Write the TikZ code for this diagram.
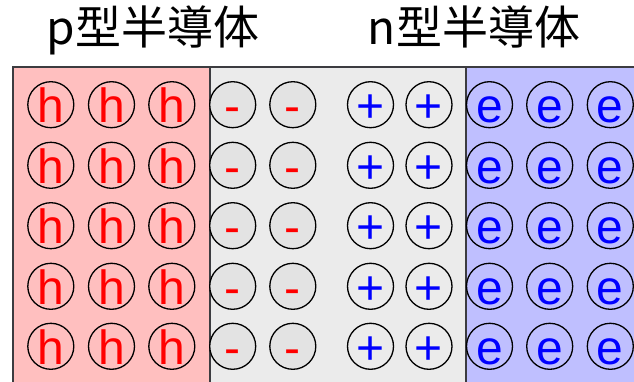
\documentclass[tikz,border=0pt]{standalone}
\usepackage{fontspec}
\setmainfont{Liberation Sans}
\newfontfamily\cjkfont{Noto Sans CJK JP}
\definecolor{pinkfill}{RGB}{255,191,191}
\definecolor{grayfill}{RGB}{235,235,235}
\definecolor{bluefill}{RGB}{191,191,255}
\definecolor{ionfill}{RGB}{227,227,227}
\definecolor{edgecol}{RGB}{60,60,64}
\begin{document}
\begin{tikzpicture}[x=1pt,y=-1pt,
  region/.style={draw=edgecol,line width=2pt},
  carrier/.style={circle,draw=black,line width=1.3pt,minimum size=46pt,inner sep=0pt,
    text height=36pt,text depth=0pt,font=\fontsize{48}{48}\selectfont},
  hole/.style={carrier,text=red},
  acceptor/.style={carrier,text=red,fill=ionfill},
  donor/.style={carrier,text=blue},
  electron/.style={carrier,text=blue},
  title/.style={font=\cjkfont\fontsize{46}{46}\selectfont,anchor=base,inner sep=0pt}]
\useasboundingbox (0,0) rectangle (634,382);
\clip (0,0) rectangle (634,382);
\fill[white] (0,0) rectangle (634,382);
% regions
\path[region,fill=pinkfill] (13,67) rectangle (210,400);
\path[region,fill=grayfill] (210,67) rectangle (466,400);
\path[region,fill=bluefill] (466,67) rectangle (660,400);
% titles
\node[title] (ptitle) at (153,45) {p型半導体};
\node[title] (ntitle) at (474,45) {n型半導体};
% carriers and ions
\foreach \y [count=\r] in {104.7,165.3,225.7,286.3,346.3} {
  \foreach \x [count=\c] in {50.8,111.5,171.8}
    \node[hole] (h-\r-\c) at (\x,\y) {h};
  \foreach \x [count=\c] in {232.7,292.8}
    \node[acceptor] (a-\r-\c) at (\x,\y) {-};
  \foreach \x [count=\c] in {370.5,429}
    \node[donor] (d-\r-\c) at (\x,\y) {+};
  \foreach \x [count=\c] in {489.5,549.7,610.3}
    \node[electron] (e-\r-\c) at (\x,\y) {e};
}
\end{tikzpicture}
\end{document}
